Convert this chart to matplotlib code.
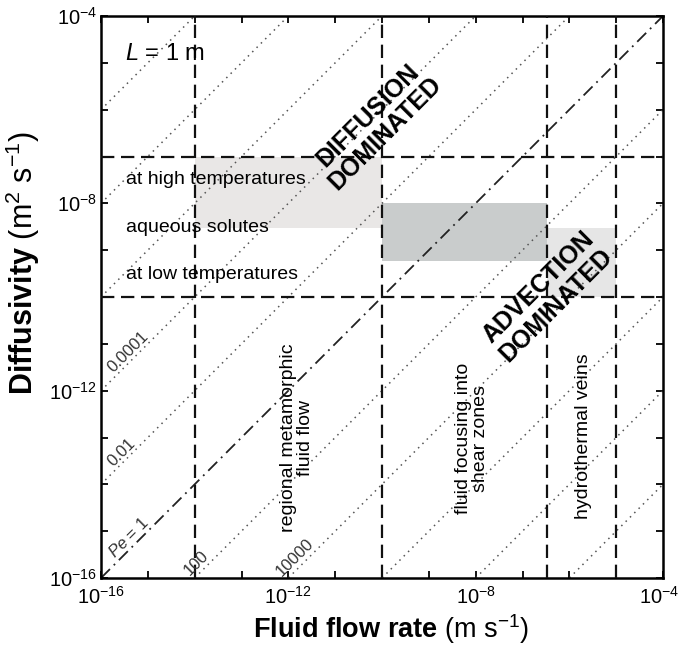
import numpy as np
import matplotlib
matplotlib.use('Agg')
from matplotlib import pyplot as plt
from matplotlib import transforms
from matplotlib.ticker import FixedLocator, NullFormatter

plt.rcParams['font.family'] = ['Liberation Sans', 'DejaVu Sans']
plt.rcParams['mathtext.fontset'] = 'custom'
plt.rcParams['mathtext.rm'] = 'Liberation Sans'
plt.rcParams['mathtext.it'] = 'Liberation Sans:italic'
plt.rcParams['mathtext.bf'] = 'Liberation Sans:bold'

# Peclet numbers of the diagonal lines (Pe = v L / D, L = 1 m)
pe_values = [1e-10, 1e-8, 1e-6, 1e-4, 1e-2, 1, 1e2, 1e4, 1e6, 1e8, 1e10]
pe_labels = ['0.0001', '0.01', r'$\mathit{Pe}$ = 1', '100', '10000']
pe_label_x = [10**-15.42, 10**-15.55, 10**-15.4, 10**-13.97, 10**-11.85]
pe_label_y = [10**-11.18, 10**-13.32, 10**-15.13, 10**-15.67, 10**-15.56]

# flow-rate boundaries (vertical dashed) and diffusivity bounds (horizontal dashed)
flow_bounds = [1e-14, 1e-10, 3.4e-7, 1e-5]
diff_bounds = [1e-7, 1e-10]

# shaded boxes: (x0, x1, y0, y1, colour)
boxes = [
    (1e-14, 1e-10, 3e-9, 1e-7, '#e9e7e6'),
    (1e-10, 3.4e-7, 6e-10, 1e-8, '#c9cccc'),
    (3.4e-7, 1e-5, 1e-10, 3e-9, '#e6e6e6'),
]

major_ticks = [1e-16, 1e-12, 1e-8, 1e-4]
major_labels = ['10$^{-16}$', '10$^{-12}$', '10$^{-8}$', '10$^{-4}$']
minor_ticks = [10.0**k for k in range(-16, -3)]

fig = plt.figure(figsize=(6.79, 6.46), dpi=100)
ax = fig.add_axes([101/679, 1-578/646, 562/679, 562/646])
ax.set_xscale('log')
ax.set_yscale('log')
ax.set_xlim(1e-16, 1e-4)
ax.set_ylim(1e-16, 1e-4)

for x0, x1, y0, y1, c in boxes:
    ax.fill_between([x0, x1], y0, y1, color=c, lw=0, zorder=1)

v = np.array([1e-16, 1e-4])
for pe in pe_values:
    if pe == 1:
        ax.plot(v, v / pe, color='#222222', lw=1.3, ls=(0, (7, 3, 1, 3)), zorder=2)
    else:
        ax.plot(v, v / pe, color='#555555', lw=1.1, ls=(0, (1, 3)), zorder=2)

for x in flow_bounds:
    ax.axvline(x, color='#111111', lw=1.6, ls=(0, (6, 3)), zorder=3)
for y in diff_bounds:
    ax.axhline(y, color='#111111', lw=1.6, ls=(0, (6, 3)), zorder=3)

for lab, x, y in zip(pe_labels, pe_label_x, pe_label_y):
    ax.text(x, y, lab, rotation=45, ha='center', va='center', fontsize=12,
            color='#333333', zorder=4)

ax.text(10**-15.49, 10**-4.81, r'$\mathit{L}$ = 1 m', fontsize=17, va='center', ha='left')
ax.text(10**-15.47, 10**-7.5, 'at high temperatures', fontsize=14, va='center', zorder=4)
ax.text(10**-15.47, 10**-8.51, 'aqueous solutes', fontsize=14, va='center', zorder=4)
ax.text(10**-15.47, 10**-9.51, 'at low temperatures', fontsize=14, va='center', zorder=4)

ax.text(10**-10.12, 10**-6.31, 'DIFFUSION\nDOMINATED', rotation=45, fontsize=18,
        fontweight='bold', ha='center', va='center', multialignment='center',
        linespacing=1.05, zorder=4)
ax.text(10**-6.47, 10**-9.98, 'ADVECTION\nDOMINATED', rotation=45, fontsize=18,
        fontweight='bold', ha='center', va='center', multialignment='center',
        linespacing=1.05, zorder=4)

ax.text(10**-11.81, 1e-13, 'regional metamorphic\nfluid flow', rotation=90, fontsize=14,
        ha='center', va='center', multialignment='center', linespacing=1.0, zorder=4)
ax.text(10**-8.07, 10**-13.02, 'fluid focusing into\nshear zones', rotation=90, fontsize=14,
        ha='center', va='center', multialignment='center', linespacing=1.0, zorder=4)
ax.text(10**-5.7, 10**-12.97, 'hydrothermal veins', rotation=90, fontsize=14,
        ha='center', va='center', zorder=4)

for axis in (ax.xaxis, ax.yaxis):
    axis.set_major_locator(FixedLocator(major_ticks))
    axis.set_minor_locator(FixedLocator(minor_ticks))
    axis.set_minor_formatter(NullFormatter())
ax.set_xticklabels(major_labels, fontsize=14.5)
ax.set_yticklabels(major_labels, fontsize=14.5)
ax.tick_params(which='both', direction='in', top=True, right=True, length=5, width=1.3)
ax.tick_params(axis='x', pad=6)
ax.tick_params(axis='y', pad=3)

# nudge the last x tick label so it stays inside the figure
last = ax.get_xticklabels()[-1]
last.set_transform(last.get_transform() +
                   transforms.ScaledTranslation(-4/100, 0, fig.dpi_scale_trans))

for s in ax.spines.values():
    s.set_linewidth(1.8)

ax.set_xlabel(r'$\mathbf{Fluid\ flow\ rate}$ (m s$^{-1}$)', fontsize=19.5)
ax.set_ylabel(r'$\mathbf{Diffusivity}$ (m$^{2}$ s$^{-1}$)', fontsize=22)
ax.xaxis.set_label_coords(0.516, -0.06)
ax.yaxis.set_label_coords(-0.105, 0.56)

fig.savefig('out.png', dpi=100)
